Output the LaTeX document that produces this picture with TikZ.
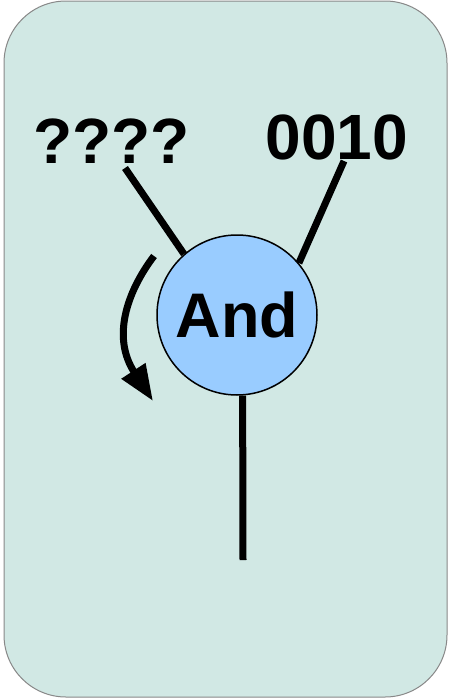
\documentclass[tikz,border=0pt]{standalone}
\usepackage{fontspec}
\setmainfont{Liberation Sans}
\usetikzlibrary{arrows.meta}
\definecolor{bgteal}{RGB}{209,232,228}
\definecolor{gateblue}{RGB}{153,204,255}
\definecolor{framegray}{RGB}{136,136,136}
\tikzset{
  wire/.style={line width=7pt, black},
  bigtext/.style={font=\bfseries\fontsize{64}{64}\selectfont, inner sep=0pt},
  gate/.style={circle, draw=black, line width=1.5pt, fill=gateblue, minimum size=160pt, inner sep=0pt, font=\bfseries\fontsize{63}{63}\selectfont}
}
\begin{document}
\begin{tikzpicture}[x=1pt,y=-1pt]
\useasboundingbox (0,0) rectangle (449,699);
\draw[framegray, line width=1pt, fill=bgteal, rounded corners=62pt] (4,1) rectangle (447,697);
\node[bigtext, anchor=base] (qin) at (111.5,163) {????};
\node[bigtext, anchor=base] (bin) at (337,159) {0010};
\node[gate] (and) at (237,315) {\raisebox{-2pt}{And}};
\coordinate (q1) at (125,168);
\coordinate (b1) at (344,161);
\coordinate (out) at (243,560);
\draw[wire] (q1) -- (and.131);
\draw[wire] (b1) -- (and.40);
\draw[wire] (and.-86) -- (out);
\coordinate (as) at (154,256);
\coordinate (ae) at (153,401);
\draw[line width=7pt, -{Triangle[length=36pt,width=27pt]}] (as) .. controls (126,293) and (112,338) .. (ae);
\end{tikzpicture}
\end{document}
